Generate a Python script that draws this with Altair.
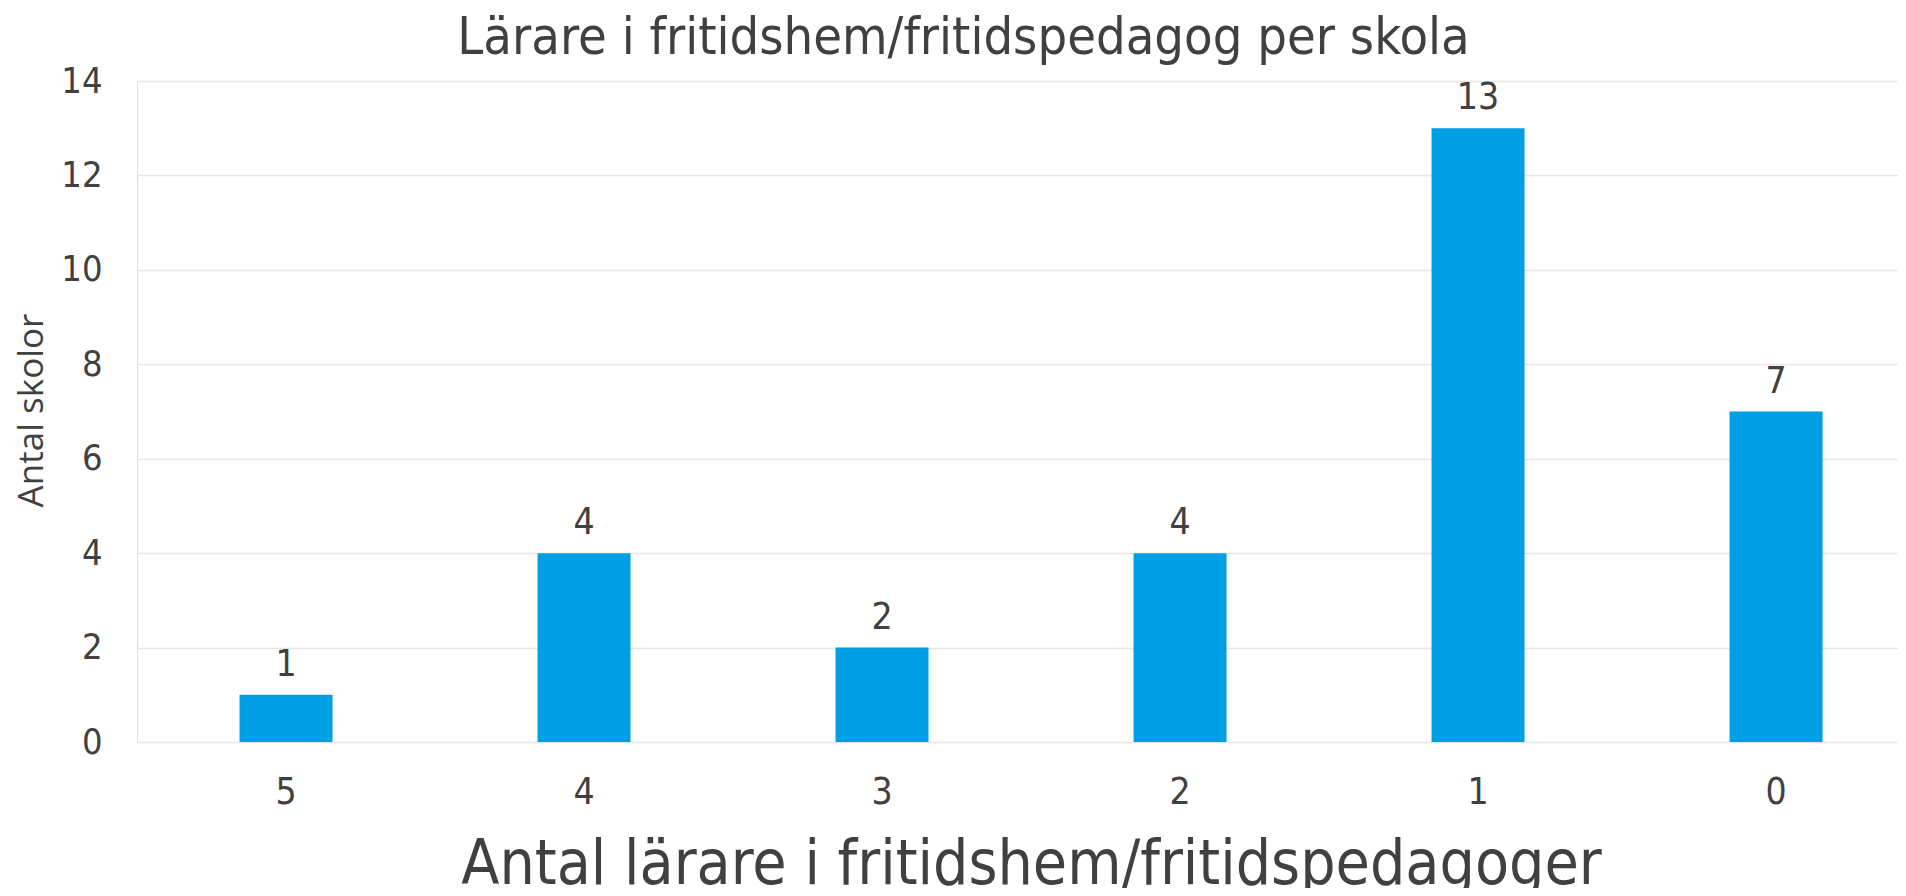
import altair as alt
import pandas as pd

# --- data ---
categories = ["5", "4", "3", "2", "1", "0"]
values = [1, 4, 2, 4, 13, 7]
y_ticks = [0, 2, 4, 6, 8, 10, 12, 14]

df = pd.DataFrame({"kategori": categories, "antal": values})

FONT = "DejaVu Sans Condensed"
TEXT = "#404040"
BAR = "#009FE3"
GRID = "#e6e6e6"

x_enc = alt.X(
    "kategori:N",
    sort=categories,
    scale=alt.Scale(paddingInner=0.688, paddingOuter=0.2986, align=0.576),
    axis=alt.Axis(
        title="Antal lärare i fritidshem/fritidspedagoger",
        labelAngle=0,
        labelFont=FONT,
        labelFontSize=37,
        labelColor=TEXT,
        labelBaseline="alphabetic",
        labelPadding=61,
        ticks=False,
        tickSize=0,
        domain=False,
        grid=False,
        titleFont=FONT,
        titleFontSize=62,
        titleFontWeight="normal",
        titleColor=TEXT,
        titleX=894,
        titleY=141,
        titleBaseline="alphabetic",
        titleAlign="center",
    ),
)

y_enc = alt.Y(
    "antal:Q",
    scale=alt.Scale(domain=[0, 14], nice=False),
    axis=alt.Axis(
        title="Antal skolor",
        values=y_ticks,
        labelFont=FONT,
        labelFontSize=36,
        labelColor=TEXT,
        labelPadding=35,
        ticks=False,
        tickSize=0,
        domain=False,
        grid=True,
        gridColor=GRID,
        gridWidth=1.5,
        titleFont="Open Sans",
        titleFontSize=35,
        titleFontWeight="normal",
        titleColor=TEXT,
        titleAngle=270,
        titleX=-95,
        titleY=329,
        titleBaseline="alphabetic",
        titleAlign="center",
    ),
)

bars = alt.Chart(df).mark_bar(color=BAR).encode(x=x_enc, y=y_enc)
labels = alt.Chart(df).mark_text(
    dy=-19, baseline="alphabetic", font=FONT, fontSize=37, color=TEXT
).encode(x=alt.X("kategori:N", sort=categories), y="antal:Q", text="antal:Q")

chart = (
    alt.layer(bars, labels)
    .properties(
        width=1761,
        height=661,
        title=alt.TitleParams(
            text="Lärare i fritidshem/fritidspedagog per skola",
            font=FONT,
            fontSize=52,
            fontWeight="normal",
            color=TEXT,
            anchor="middle",
            frame="group",
            dx=-54,
            dy=53,
            baseline="alphabetic",
            offset=10,
        ),
        padding={"left": 129, "top": 73, "right": 0, "bottom": 146},
        autosize=alt.AutoSizeParams(type="none"),
    )
    .configure_view(stroke=None)
    .configure(background="white")
)

chart.save("out.html", embed_options={"renderer": "svg", "actions": False})
